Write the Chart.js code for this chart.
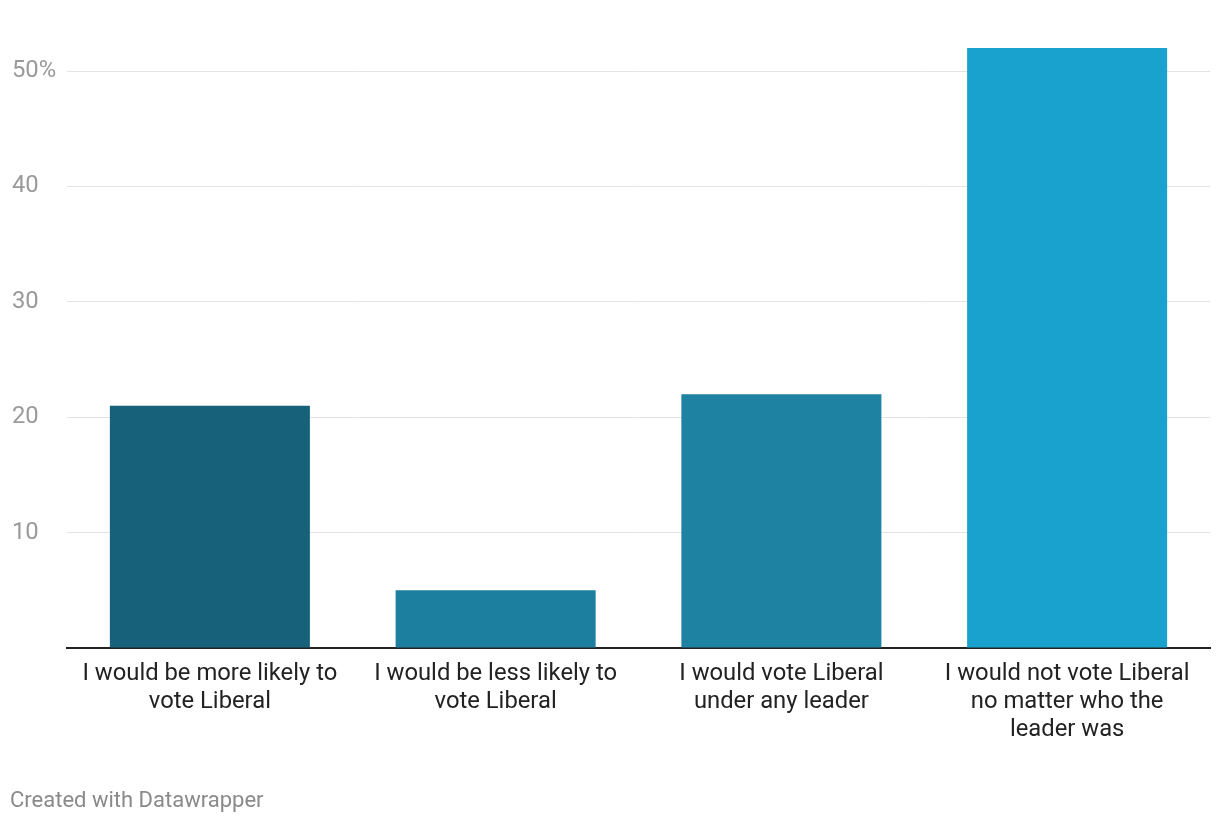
<!DOCTYPE html>
<html>
<head>
<meta charset="utf-8">
<script src="https://cdn.jsdelivr.net/npm/chart.js@4"></script>
<style>
  html, body { margin: 0; padding: 0; background: #fff; }
  #wrap { position: relative; width: 1220px; height: 824px; }
  #footer { position: absolute; left: 10px; top: 787px; font-family: Roboto, sans-serif; font-size: 22px; line-height: 26px; color: #8a8a8a; }
</style>
</head>
<body>
<div id="wrap">
  <canvas id="c" width="1220" height="824"></canvas>
  <div id="footer">Created with Datawrapper</div>
</div>
<script>
const categories = [
  ["I would be more likely to", "vote Liberal"],
  ["I would be less likely to", "vote Liberal"],
  ["I would vote Liberal", "under any leader"],
  ["I would not vote Liberal", "no matter who the", "leader was"]
];
const values = [21, 5, 22, 52];
const barColors = ["#18617a", "#1d7fa0", "#1e82a2", "#1aa2cf"];
const yTicks = [10, 20, 30, 40, 50];

new Chart(document.getElementById('c'), {
  type: 'bar',
  data: {
    labels: categories,
    datasets: [{
      data: values,
      backgroundColor: barColors,
      borderWidth: 0,
      categoryPercentage: 0.7,
      barPercentage: 1.0
    }]
  },
  options: {
    responsive: false,
    animation: false,
    layout: { padding: { left: 12, right: 10, top: 48, bottom: 0 } },
    plugins: { legend: { display: false }, tooltip: { enabled: false } },
    scales: {
      x: {
        grid: { display: false, drawTicks: false },
        border: { display: true, color: '#222', width: 2 },
        ticks: {
          color: '#222',
          font: { family: 'Roboto', size: 23.8, lineHeight: 28 / 23.8 },
          padding: 12,
          maxRotation: 0,
          autoSkip: false
        },
        afterFit: s => { s.height = 176; }
      },
      y: {
        min: 0,
        max: 52,
        afterBuildTicks: s => {
          s.ticks = [0].concat(yTicks).map(v => ({ value: v }));
        },
        grid: { color: '#e3e3e3', lineWidth: 1, drawTicks: false },
        border: { display: false },
        ticks: {
          crossAlign: 'far',
          color: '#9a9a9a',
          font: { family: 'Roboto', size: 23.8 },
          padding: 0,
          callback: (v) => v === 0 ? '' : (v === 50 ? v + '%' : String(v))
        },
        afterFit: s => { s.width = 55; }
      }
    }
  }
});
</script>
</body>
</html>
